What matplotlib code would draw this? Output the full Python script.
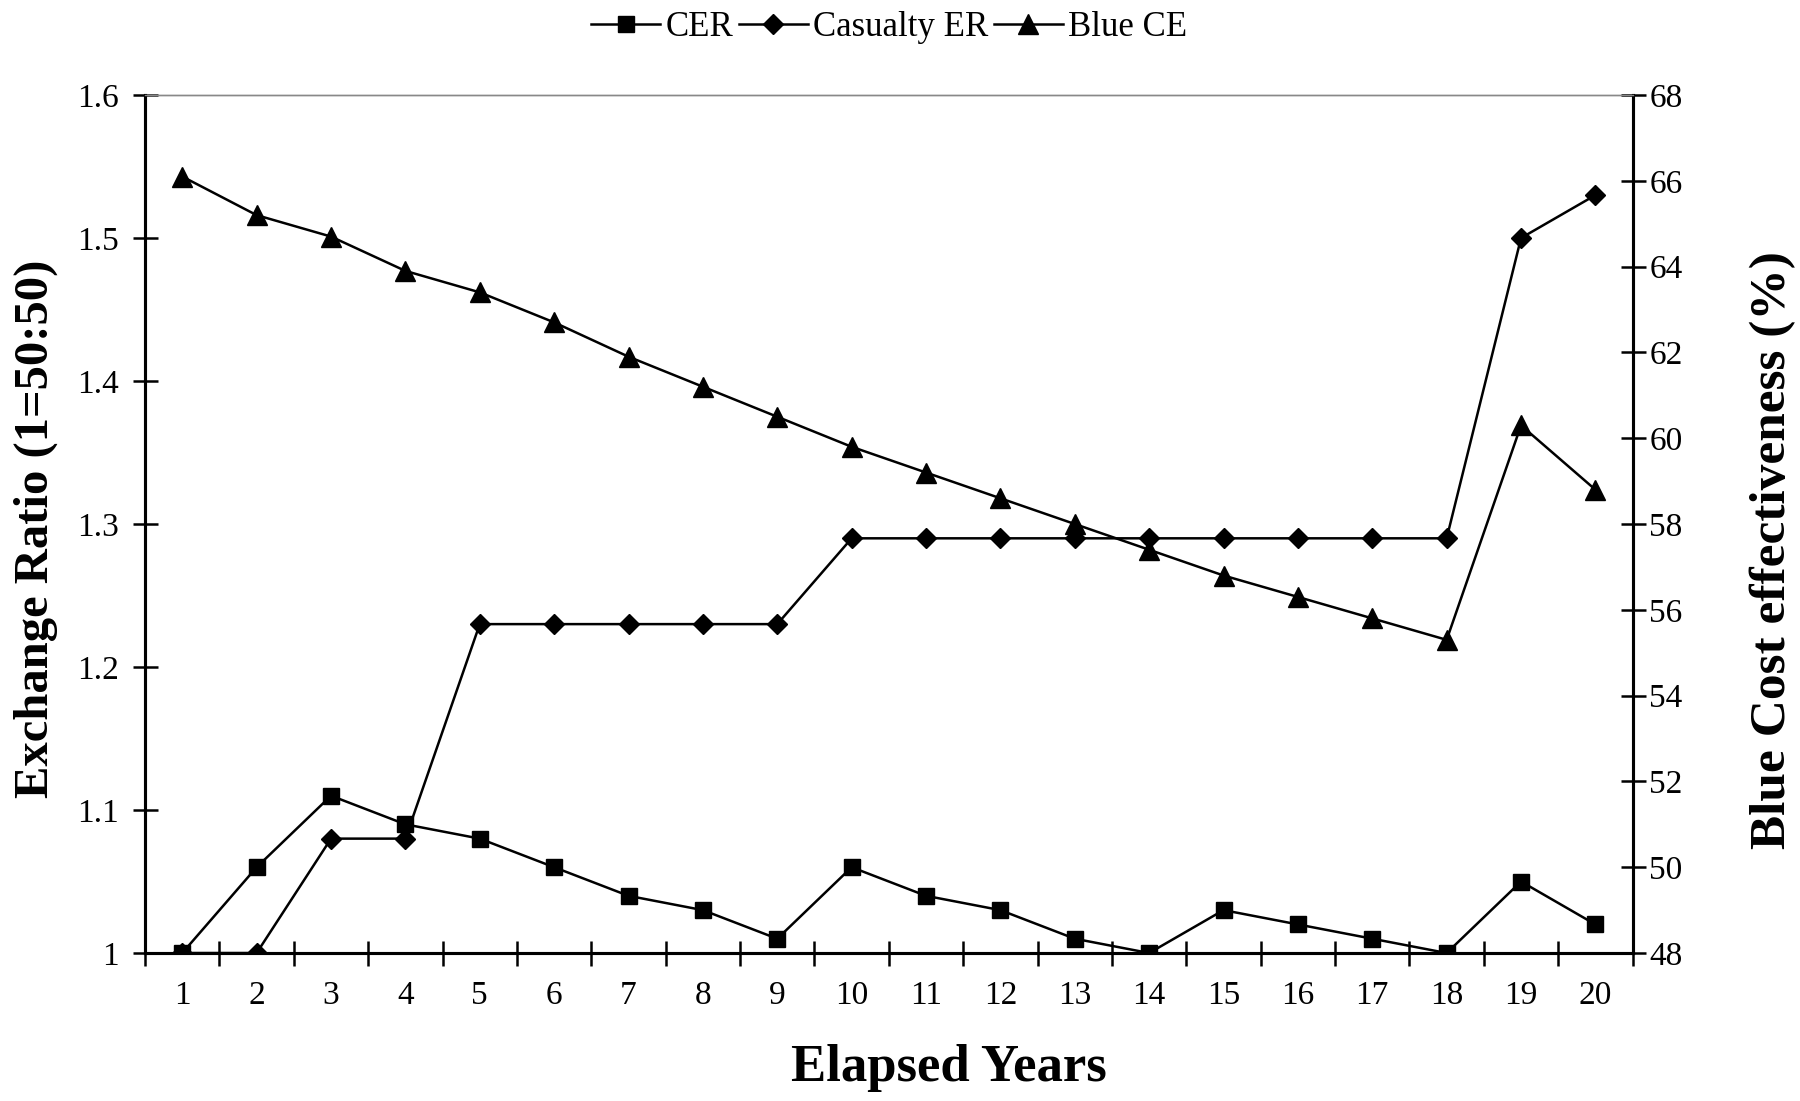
import numpy as np
import matplotlib.pyplot as plt
from matplotlib.ticker import FormatStrFormatter, FixedLocator

plt.rcParams['font.family'] = ['Liberation Serif', 'DejaVu Serif']

years = list(range(1, 21))
cer = [1.00, 1.06, 1.11, 1.09, 1.08, 1.06, 1.04, 1.03, 1.01, 1.06,
       1.04, 1.03, 1.01, 1.00, 1.03, 1.02, 1.01, 1.00, 1.05, 1.02]
casualty_er = [1.00, 1.00, 1.08, 1.08, 1.23, 1.23, 1.23, 1.23, 1.23, 1.29,
               1.29, 1.29, 1.29, 1.29, 1.29, 1.29, 1.29, 1.29, 1.50, 1.53]
blue_ce = [66.1, 65.2, 64.7, 63.9, 63.4, 62.7, 61.9, 61.2, 60.5, 59.8,
           59.2, 58.6, 58.0, 57.4, 56.8, 56.3, 55.8, 55.3, 60.3, 58.8]

fig = plt.figure(figsize=(18, 11.01), dpi=100)
ax = fig.add_axes([0.0806, 0.1344, 0.8264, 0.7793])
ax2 = ax.twinx()

l1, = ax.plot(years, cer, color='black', lw=1.8, marker='s', markersize=12, label='CER')
l2, = ax.plot(years, casualty_er, color='black', lw=1.8, marker='D', markersize=10, label='Casualty ER')
l3, = ax2.plot(years, blue_ce, color='black', lw=1.8, marker='^', markersize=14, label='Blue CE')

ax.set_xlim(0.5, 20.5)
ax.set_ylim(1.0, 1.6)
ax2.set_ylim(48, 68)
ax.set_yticks(np.arange(1.0, 1.61, 0.1))
ax2.set_yticks(np.arange(48, 69, 2))
ax.yaxis.set_major_formatter(FormatStrFormatter('%g'))

ax.set_xticks(years)
ax.xaxis.set_minor_locator(FixedLocator(np.arange(0.5, 21, 1)))
ax.tick_params(axis='x', which='major', length=0, pad=20, labelsize=24)
ax.tick_params(axis='x', which='minor', direction='inout', length=18, width=1.8)
ax.tick_params(axis='y', direction='inout', length=18, width=1.8, pad=10, labelsize=24)
ax2.tick_params(axis='y', direction='inout', length=18, width=1.8, pad=3, labelsize=24)

for a in (ax, ax2):
    a.spines['top'].set_color('#888888')
    a.spines['top'].set_linewidth(1.0)
    for s in ('left', 'right', 'bottom'):
        a.spines[s].set_linewidth(2.2)

# axis titles placed in figure coords to match the original layout
fig.text(0.527, 0.03, 'Elapsed Years', fontsize=38, fontweight='bold',
         ha='center', va='center')
fig.text(0.02, 0.52, 'Exchange Ratio (1=50:50)', fontsize=35, fontweight='bold',
         ha='center', va='center', rotation=90)
fig.text(0.985, 0.50, 'Blue Cost effectiveness (%)', fontsize=37, fontweight='bold',
         ha='center', va='center', rotation=90)

fig.legend(handles=[l1, l2, l3], loc='upper center', bbox_to_anchor=(0.494, 1.018),
           ncol=3, frameon=False, fontsize=25, handlelength=2.0, handletextpad=0.15,
           columnspacing=0.15)

fig.savefig('out.png', dpi=100)
